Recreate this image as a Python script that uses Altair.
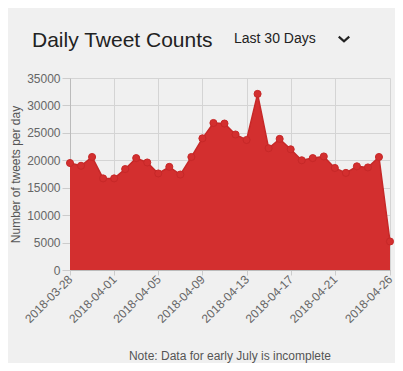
import altair as alt
import pandas as pd

# ---- data ----
dates = [
    "2018-03-28", "2018-03-29", "2018-03-30", "2018-03-31", "2018-04-01",
    "2018-04-02", "2018-04-03", "2018-04-04", "2018-04-05", "2018-04-06",
    "2018-04-07", "2018-04-08", "2018-04-09", "2018-04-10", "2018-04-11",
    "2018-04-12", "2018-04-13", "2018-04-14", "2018-04-15", "2018-04-16",
    "2018-04-17", "2018-04-18", "2018-04-19", "2018-04-20", "2018-04-21",
    "2018-04-22", "2018-04-23", "2018-04-24", "2018-04-25", "2018-04-26",
]
counts = [
    19500, 19000, 20600, 16700, 16700,
    18400, 20400, 19600, 17600, 18800,
    17400, 20600, 24000, 26800, 26700,
    24700, 23700, 32100, 22200, 23900,
    22000, 20000, 20400, 20700, 18600,
    17700, 18900, 18700, 20600, 5200,
]
tick_dates = ["2018-03-28", "2018-04-01", "2018-04-05", "2018-04-09",
              "2018-04-13", "2018-04-17", "2018-04-21", "2018-04-26"]
y_ticks = [0, 5000, 10000, 15000, 20000, 25000, 30000, 35000]

title_text = "Daily Tweet Counts"
dropdown_text = "Last 30 Days"
note_text = "Note: Data for early July is incomplete"
y_title = "Number of tweets per day"

df = pd.DataFrame({"date": dates, "count": counts})


def ms(d):
    return int(pd.Timestamp(d, tz="UTC").value // 10**6)


tick_ms = [ms(d) for d in tick_dates]

RED = "#d32f2f"
FONT = "Liberation Sans"

x_enc = alt.X(
    "date:T",
    scale=alt.Scale(type="utc", domain=[ms(dates[0]), ms(dates[-1])], nice=False),
    axis=alt.Axis(
        values=tick_ms, labelExpr="utcFormat(datum.value, '%Y-%m-%d')",
        labelAngle=-45, labelAlign="right", labelBaseline="middle",
        labelPadding=2, tickSize=5, title=None,
        labelColor="#666666", labelFontSize=12, labelFont=FONT,
        gridColor="#d4d4d4", domainColor="#bbbbbb", tickColor="#cccccc",
        labelOverlap=False, labelBound=False, labelFlush=False,
    ),
)
y_enc = alt.Y(
    "count:Q",
    scale=alt.Scale(domain=[0, 35000], nice=False),
    axis=alt.Axis(
        values=y_ticks, title=y_title, format="d",
        labelColor="#666666", labelFontSize=12, labelFont=FONT,
        labelPadding=2, tickSize=8,
        titleFont=FONT, titleFontSize=12, titleFontWeight="normal",
        titleColor="#555555", titleX=-55, titleY=96, titleAngle=-90,
        titleAlign="center", titleBaseline="middle",
        gridColor="#d4d4d4", domainColor="#bbbbbb", tickColor="#cccccc",
    ),
)

base = alt.Chart(df).encode(x=x_enc, y=y_enc)

area = base.mark_area(
    color=RED, line={"color": "#c62828", "strokeWidth": 1.5}, opacity=1
)

points = base.mark_circle(
    color=RED, size=50, opacity=1, stroke="#c62828", strokeWidth=1
)

title = alt.Chart(pd.DataFrame({"t": [title_text]})).mark_text(
    align="left", baseline="alphabetic", font=FONT, fontSize=21, color="#222222"
).encode(x=alt.value(-38), y=alt.value(-31), text="t:N")

dropdown = alt.Chart(pd.DataFrame({"t": [dropdown_text]})).mark_text(
    align="left", baseline="alphabetic", font=FONT, fontSize=14, color="#222222"
).encode(x=alt.value(164), y=alt.value(-35), text="t:N")

chevron = alt.Chart(pd.DataFrame({"t": [""]})).mark_point(
    shape="M-1,-0.45L0,0.45L1,-0.45", filled=False, stroke="#222222",
    strokeWidth=2.2, size=110, opacity=1
).encode(x=alt.value(274), y=alt.value(-39))

note = alt.Chart(pd.DataFrame({"t": [note_text]})).mark_text(
    align="center", baseline="alphabetic", font=FONT, fontSize=12, color="#555555"
).encode(x=alt.value(160), y=alt.value(282), text="t:N")

chart = alt.layer(area, points, title, dropdown, chevron, note).properties(
    width=320, height=192,
    autosize=alt.AutoSizeParams(type="none"),
    padding={"left": 62, "top": 70, "right": 5, "bottom": 93},
    background="#f0f0f0",
).configure_view(stroke=None)

chart.save("out.html", embed_options={"renderer": "svg", "actions": False})
